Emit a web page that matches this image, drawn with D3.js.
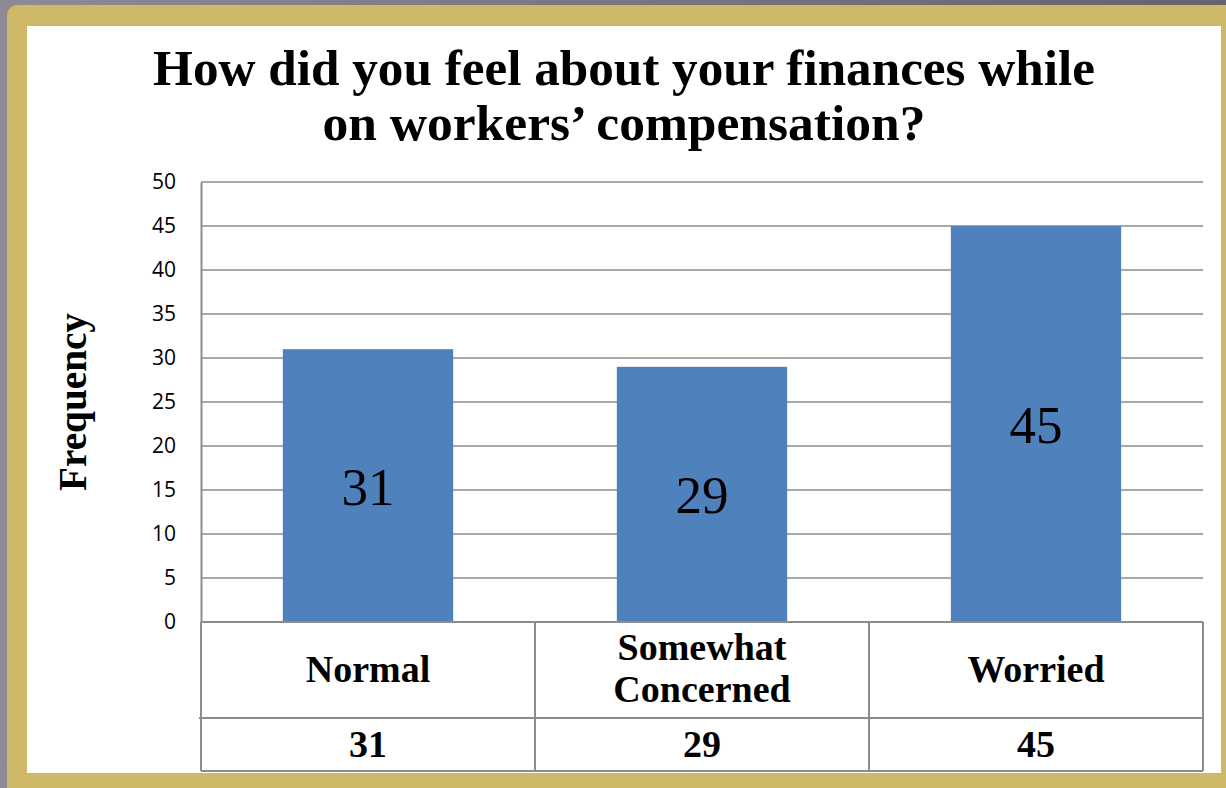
<!DOCTYPE html>
<html><head><meta charset="utf-8">
<script src="https://cdn.jsdelivr.net/npm/d3@7"></script>
<style>html,body{margin:0;padding:0;background:#8a8791;overflow:hidden}</style>
</head><body>
<svg id="c" width="1226" height="788"></svg>
<script>
const categories = ["Normal", "Somewhat Concerned", "Worried"];
const categoryLines = [["Normal"], ["Somewhat", "Concerned"], ["Worried"]];
const values = [31, 29, 45];
const yTicks = [0, 5, 10, 15, 20, 25, 30, 35, 40, 45, 50];
const titleLines = ["How did you feel about your finances while", "on workers\u2019 compensation?"];
const yLabel = "Frequency";

const svg = d3.select("#c");
const W = 1226, H = 788;
const serif = "'Liberation Serif', 'Times New Roman', serif";
const sans = "'Open Sans', 'Liberation Sans', sans-serif";

// background + frame
const bg = svg.append("defs").append("linearGradient").attr("id","bgg").attr("x1",0).attr("x2",1).attr("y1",0).attr("y2",0);
bg.append("stop").attr("offset","0%").attr("stop-color","#8d8a93");
bg.append("stop").attr("offset","100%").attr("stop-color","#66636c");
svg.append("rect").attr("width",W).attr("height",H).attr("fill","url(#bgg)");
svg.append("rect").attr("x",7).attr("y",5).attr("width",W+20).attr("height",H+20).attr("rx",10).attr("fill","#cfb968");
svg.append("rect").attr("x",27).attr("y",26).attr("width",1194).attr("height",747).attr("fill","#ffffff");

// scales
const plot = {left: 201, right: 1203, top: 182, bottom: 622};
const x = d3.scaleBand().domain(categories).range([plot.left, plot.right]).paddingInner(0.49).paddingOuter(0.245);
const xCell = d3.scaleBand().domain(categories).range([plot.left, plot.right]);
const y = d3.scaleLinear().domain([0, 50]).range([plot.bottom, plot.top]);

const lineCol = "#8c8c8c";

function fit(t, target) {
  const fs = +t.attr("font-size");
  const w = t.node().getComputedTextLength();
  t.attr("font-size", fs * target / w);
}

// gridlines
svg.append("g").selectAll("line").data(yTicks.filter(d => d > 0)).join("line")
  .attr("x1", plot.left).attr("x2", plot.right)
  .attr("y1", d => y(d)).attr("y2", d => y(d))
  .attr("stroke", lineCol).attr("stroke-width", 1.5);

// y axis
const yAxis = svg.append("g").attr("transform", `translate(${plot.left},0)`)
  .call(d3.axisLeft(y).tickValues(yTicks).tickSize(0).tickPadding(25));
yAxis.select(".domain").attr("stroke", lineCol).attr("stroke-width", 2);
yAxis.selectAll("text").attr("font-family", sans).attr("font-size", 21).attr("fill", "#000");

// bars
svg.append("g").selectAll("rect").data(values).join("rect")
  .attr("x", (d,i) => x(categories[i])).attr("width", x.bandwidth())
  .attr("y", d => y(d)).attr("height", d => y(0) - y(d))
  .attr("fill", "#4f81bd");

// data labels
svg.append("g").selectAll("text").data(values).join("text")
  .attr("x", (d,i) => x(categories[i]) + x.bandwidth()/2)
  .attr("y", d => (y(d) + y(0))/2)
  .attr("dy", "0.36em")
  .attr("text-anchor", "middle").attr("font-family", serif).attr("font-size", 53).attr("fill", "#000")
  .text(d => d);

// table
const rowTop = plot.bottom, rowMid = 718, rowBot = 771;
const tbl = svg.append("g").attr("stroke", lineCol).attr("stroke-width", 2);
tbl.append("line").attr("x1", plot.left).attr("x2", plot.right).attr("y1", rowTop).attr("y2", rowTop);
tbl.append("line").attr("x1", plot.left - 2).attr("x2", plot.right).attr("y1", rowMid).attr("y2", rowMid);
tbl.append("line").attr("x1", plot.left).attr("x2", plot.right).attr("y1", rowBot).attr("y2", rowBot);
const edges = categories.map(c => xCell(c)).concat([plot.right]);
tbl.selectAll("line.v").data(edges).join("line").attr("class","v")
  .attr("x1", d => d).attr("x2", d => d).attr("y1", rowTop).attr("y2", rowBot);

const catG = svg.append("g");
categoryLines.forEach((lines, i) => {
  const cx = xCell(categories[i]) + xCell.bandwidth()/2;
  const t = catG.append("text").attr("text-anchor","middle").attr("font-family", serif)
    .attr("font-weight","bold").attr("font-size", 38).attr("fill","#000");
  const lh = 42;
  const start = 682 - (lines.length - 1) * lh / 2;
  lines.forEach((l, j) => {
    t.append("tspan").attr("x", cx).attr("y", start + j*lh - (lines.length>1?1:0)).text(l);
  });
});
svg.append("g").selectAll("text").data(values).join("text")
  .attr("x", (d,i) => xCell(categories[i]) + xCell.bandwidth()/2).attr("y", 757)
  .attr("text-anchor","middle").attr("font-family", serif).attr("font-weight","bold")
  .attr("font-size", 38).attr("fill","#000").text(d => d);

// title
const tg = svg.append("g");
const titleY = [85, 140];
const titleW = [942, 603];
titleLines.forEach((l, i) => {
  const t = tg.append("text").attr("x", 624).attr("y", titleY[i]).attr("text-anchor","middle")
    .attr("font-family", serif).attr("font-weight","bold").attr("font-size", 46).attr("fill","#000").text(l);
  fit(t, titleW[i]);
});

// y label
const yl = svg.append("text").attr("transform", "translate(86,402) rotate(-90)")
  .attr("text-anchor","middle").attr("font-family", serif).attr("font-weight","bold")
  .attr("font-size", 31).attr("fill","#000").text(yLabel);
fit(yl, 178);
</script>
</body></html>
